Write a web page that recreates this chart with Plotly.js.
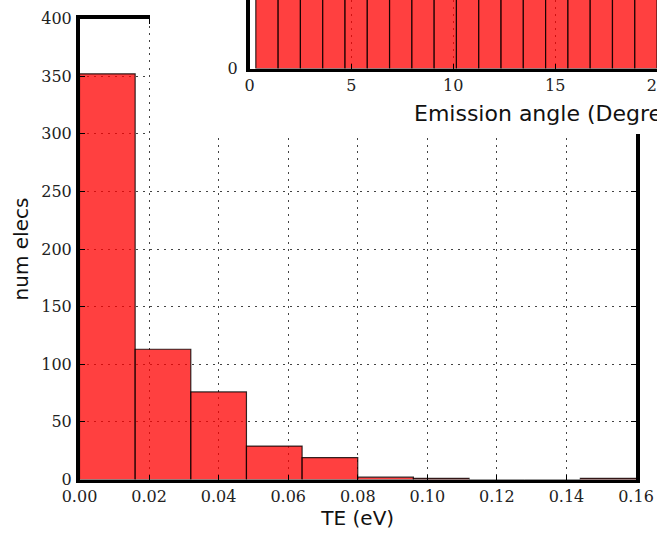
<!DOCTYPE html>
<html>
<head>
<meta charset="utf-8">
<script src="https://cdn.plot.ly/plotly-3.0.1.min.js"></script>
<style>
  html, body { margin: 0; padding: 0; background: #ffffff; }
  #chart { width: 657px; height: 534px; }
</style>
</head>
<body>
<div id="chart"></div>
<script>
// Transverse energy histogram (main panel)
const teBinCenters = [0.008, 0.024, 0.040, 0.056, 0.072, 0.088, 0.104, 0.120, 0.136, 0.152];
const teCounts = [352, 113, 76, 29, 19, 2, 1, 0, 0, 1];
const teBinWidth = 0.016;
const teTicks = [0, 0.02, 0.04, 0.06, 0.08, 0.10, 0.12, 0.14, 0.16];
const countTicks = [0, 50, 100, 150, 200, 250, 300, 350, 400];

// Emission angle histogram (inset panel)
const angleBinCenters = [0.857, 1.951, 3.045, 4.139, 5.233, 6.327, 7.421, 8.515, 9.609,
                         10.703, 11.797, 12.891, 13.985, 15.079, 16.173, 17.267, 18.361, 19.455];
const angleCounts = [24, 31, 38, 44, 50, 55, 59, 62, 64, 65, 64, 62, 59, 55, 51, 46, 41, 36];
const angleBinWidth = 1.094;
const angleTicks = [0, 5, 10, 15, 20];
const angleCountTicks = [0];

const W = 657, H = 534;
const px = v => v / W;          // horizontal pixel -> paper fraction
const py = v => 1 - v / H;      // vertical pixel (from top) -> paper fraction

const barFill = 'rgba(255,0,0,0.75)';
const barEdge = 'rgba(0,0,0,0.8)';
const tickFont = { family: 'DejaVu Serif', size: 16, color: '#222' };
const labelFont = { family: 'DejaVu Sans', size: 20, color: '#111' };
const gridStyle = { showgrid: true, gridcolor: '#444', gridwidth: 1, griddash: '2px,5px' };

const traces = [
  {
    type: 'bar', x: teBinCenters, y: teCounts, width: teBinWidth,
    marker: { color: barFill, line: { color: barEdge, width: 1.2 } },
    xaxis: 'x', yaxis: 'y', hoverinfo: 'x+y'
  },
  // empty panel that gives the inset its white backing
  { type: 'scatter', x: [], y: [], xaxis: 'x2', yaxis: 'y2', hoverinfo: 'skip' },
  {
    type: 'bar', x: angleBinCenters, y: angleCounts, width: angleBinWidth,
    marker: { color: barFill, line: { color: barEdge, width: 1.2 } },
    xaxis: 'x3', yaxis: 'y3', hoverinfo: 'x+y'
  }
];

const axisLine = { showline: true, linecolor: '#000', linewidth: 3.5, zeroline: false };

const layout = {
  width: W, height: H,
  margin: { l: 0, r: 0, t: 0, b: 0, pad: 0 },
  paper_bgcolor: '#ffffff', plot_bgcolor: '#ffffff',
  showlegend: false, bargap: 0,
  xaxis: Object.assign({}, axisLine, gridStyle, {
    domain: [px(79.5), px(636)], range: [0, 0.16], anchor: 'y',
    tickvals: teTicks, tickformat: '.2f', ticks: 'inside', ticklen: 5, tickwidth: 1,
    tickcolor: '#000', mirror: 'ticks', tickfont: tickFont, ticklabeloverflow: 'allow',
    title: { text: 'TE (eV)', font: labelFont, standoff: 6 }
  }),
  yaxis: Object.assign({}, axisLine, gridStyle, {
    domain: [py(479.5), py(18.5)], range: [0, 400], anchor: 'x',
    tickvals: countTicks, ticks: 'inside', ticklen: 5, tickwidth: 1,
    tickcolor: '#000', mirror: 'ticks', tickfont: tickFont, ticklabelstandoff: 1,
    title: { text: 'num elecs', font: labelFont, standoff: 8 }
  }),
  xaxis2: { domain: [px(150), 1], anchor: 'y2', visible: false, range: [0, 1] },
  yaxis2: { domain: [py(134), 1], anchor: 'x2', visible: false, range: [0, 1] },
  xaxis3: Object.assign({}, axisLine, gridStyle, {
    domain: [px(249.5), 1], range: [0, 20], anchor: 'y3',
    tickvals: angleTicks, ticks: 'inside', ticklen: 5, tickwidth: 1,
    tickcolor: '#000', tickfont: tickFont, ticklabeloverflow: 'allow'
  }),
  yaxis3: Object.assign({}, axisLine, {
    domain: [py(68.5), 1], range: [0, 20], anchor: 'x3',
    tickvals: angleCountTicks, ticks: 'inside', ticklen: 5, tickwidth: 1,
    tickcolor: '#000', tickfont: tickFont, showgrid: false, ticklabelstandoff: 5
  }),
  annotations: [{
    text: 'Emission angle (Degrees)', xref: 'paper', yref: 'paper',
    x: px(412), y: py(114), xanchor: 'left', yanchor: 'middle',
    showarrow: false, font: { family: 'DejaVu Sans', size: 22, color: '#111' }
  }]
};

Plotly.newPlot('chart', traces, layout, { staticPlot: true, displayModeBar: false });
</script>
</body>
</html>
